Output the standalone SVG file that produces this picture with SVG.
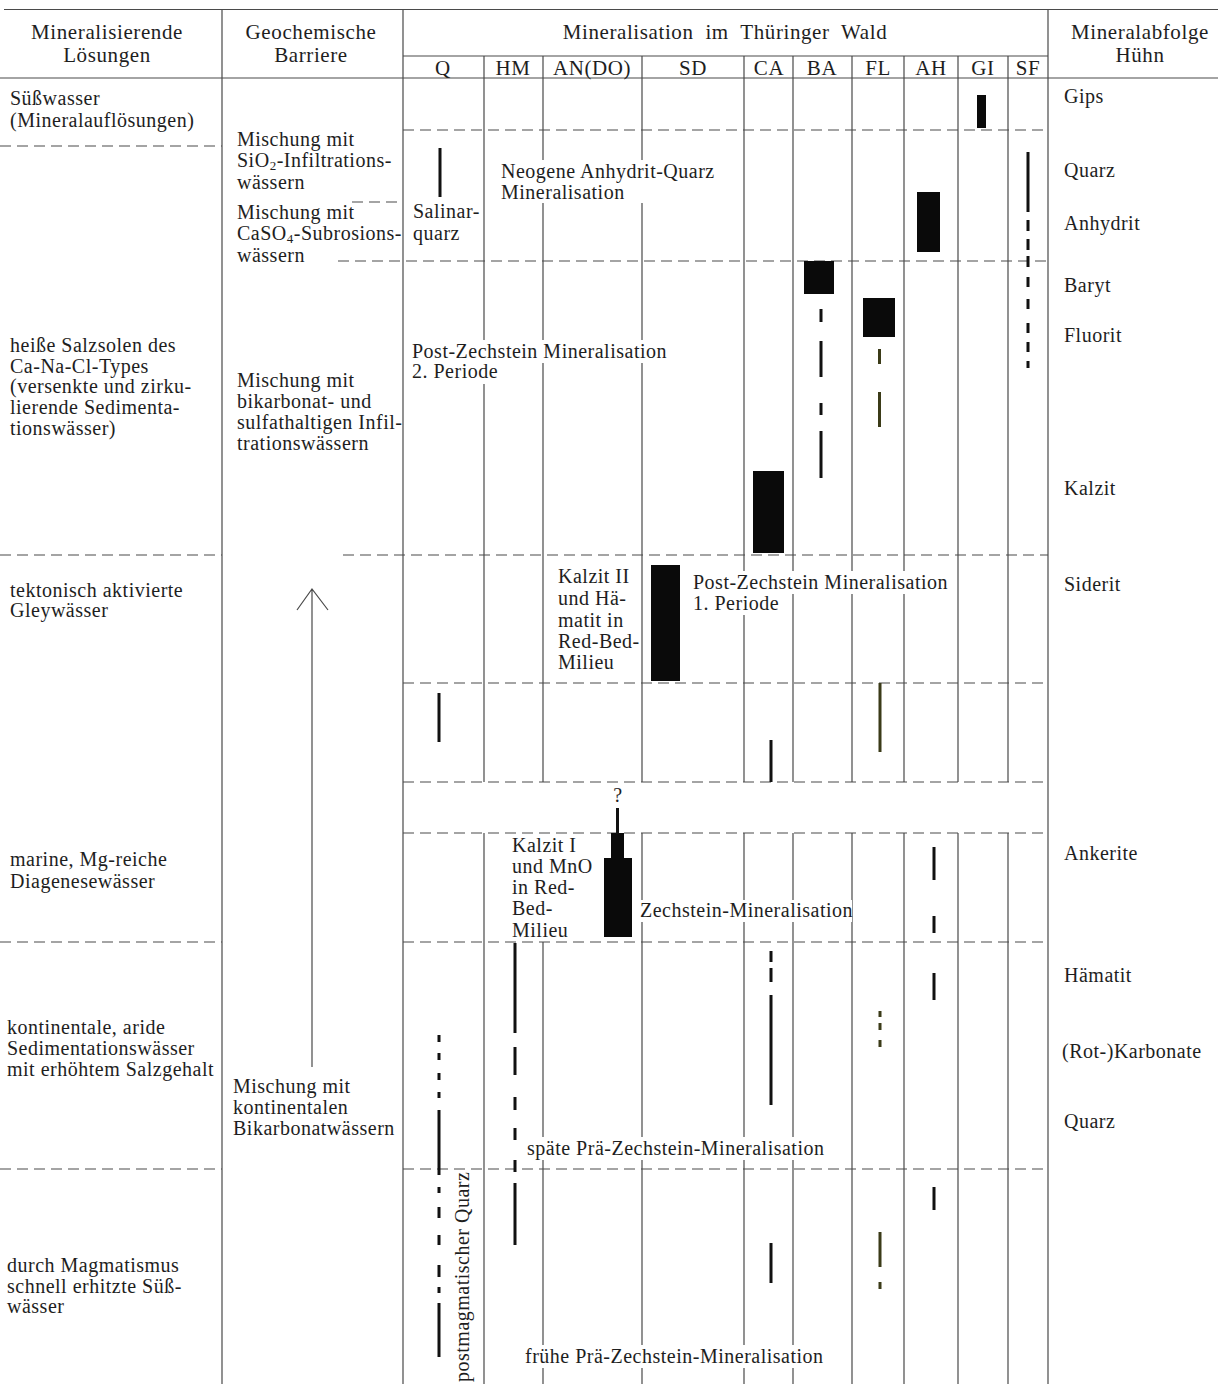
<svg xmlns="http://www.w3.org/2000/svg" width="1218" height="1384" viewBox="0 0 1218 1384">
<style>
text{font-family:"Liberation Serif","DejaVu Serif",serif;font-size:20px;letter-spacing:0.5px;fill:#1e1e1e}
.hd{font-size:21px;letter-spacing:0.6px}
.c{text-anchor:middle}
.g{stroke:#4a4a4a;stroke-width:1.2;fill:none}
.d{stroke:#4a4a4a;stroke-width:1.2;fill:none;stroke-dasharray:11 6}
.b{stroke:#111;stroke-width:3;fill:none}
.o{stroke:#3b3b18;stroke-width:3;fill:none}
.bar{fill:#0a0a0a}
.k{fill:#fff}
</style>
<rect width="1218" height="1384" fill="#fff"/>
<g id="grid">
<path class="g" d="M4 9.5H1218M0 78H1218M403 56H1048M222 9.5V1384M403 9.5V1384M1048 9.5V1384"/>
<path class="g" d="M484 56V782M543 56V782M642 56V782M744 56V782M793 56V782M852 56V782M904 56V782M958 56V782M1008 56V782"/>
<path class="g" d="M484 833V1384M543 942V1384M642 833V1384M744 833V1384M793 833V1384M852 833V1384M904 833V1384M958 833V1384M1008 833V1384"/>
<path class="d" d="M403 130H1048M0 146H222M352 202H403M338 261H1048M0 555H222M343 555H1048M403 683H1048M403 782H1048M403 833H1048M0 942H222M403 942H1048M0 1169H222M403 1169H1048"/>
</g>
<g id="label-knockouts">
<rect class="k" x="498" y="160" width="222" height="43"/>
<rect class="k" x="410" y="340" width="258" height="23"/>
<rect class="k" x="410" y="362" width="90" height="22"/>
<rect class="k" x="691" y="571" width="260" height="23"/>
<rect class="k" x="691" y="593" width="90" height="22"/>
<rect class="k" x="638" y="900" width="214" height="22"/>
<rect class="k" x="525" y="1137" width="306" height="23"/>
<rect class="k" x="523" y="1345" width="306" height="23"/>
</g>
<g id="header">
<text class="c hd" x="107" y="39">Mineralisierende</text>
<text class="c hd" x="107" y="62">Lösungen</text>
<text class="c hd" x="311" y="39">Geochemische</text>
<text class="c hd" x="311" y="62">Barriere</text>
<text class="c hd" x="725" y="39" word-spacing="6">Mineralisation im Thüringer Wald</text>
<text class="c hd" x="1140" y="39">Mineralabfolge</text>
<text class="c hd" x="1140" y="62">Hühn</text>
<text class="c hd" x="443" y="75">Q</text>
<text class="c hd" x="513" y="75">HM</text>
<text class="c hd" x="592" y="75">AN(DO)</text>
<text class="c hd" x="693" y="75">SD</text>
<text class="c hd" x="769" y="75">CA</text>
<text class="c hd" x="822" y="75">BA</text>
<text class="c hd" x="878" y="75">FL</text>
<text class="c hd" x="931" y="75">AH</text>
<text class="c hd" x="983" y="75">GI</text>
<text class="c hd" x="1028" y="75">SF</text>
</g>
<g id="loesungen">
<text x="10" y="105">Süßwasser</text>
<text x="10" y="127">(Mineralauflösungen)</text>
<text x="10" y="352">heiße Salzsolen des</text>
<text x="10" y="373">Ca-Na-Cl-Types</text>
<text x="10" y="393">(versenkte und zirku-</text>
<text x="10" y="414">lierende Sedimenta-</text>
<text x="10" y="435">tionswässer)</text>
<text x="10" y="597">tektonisch aktivierte</text>
<text x="10" y="617">Gleywässer</text>
<text x="10" y="866">marine, Mg-reiche</text>
<text x="10" y="888">Diagenesewässer</text>
<text x="7" y="1034">kontinentale, aride</text>
<text x="7" y="1055">Sedimentationswässer</text>
<text x="7" y="1076">mit erhöhtem Salzgehalt</text>
<text x="7" y="1272">durch Magmatismus</text>
<text x="7" y="1293">schnell erhitzte Süß-</text>
<text x="7" y="1313">wässer</text>
</g>
<g id="barriere">
<text x="237" y="146">Mischung mit</text>
<text x="237" y="167">SiO<tspan dy="3" font-size="13">2</tspan><tspan dy="-3">-Infiltrations-</tspan></text>
<text x="237" y="189">wässern</text>
<text x="237" y="219">Mischung mit</text>
<text x="237" y="240">CaSO<tspan dy="3" font-size="13">4</tspan><tspan dy="-3">-Subrosions-</tspan></text>
<text x="237" y="262">wässern</text>
<text x="237" y="387">Mischung mit</text>
<text x="237" y="408">bikarbonat- und</text>
<text x="237" y="429">sulfathaltigen Infil-</text>
<text x="237" y="450">trationswässern</text>
<text x="233" y="1093">Mischung mit</text>
<text x="233" y="1114">kontinentalen</text>
<text x="233" y="1135">Bikarbonatwässern</text>
</g>
<g id="connectors">
<path class="g" d="M312 589V1067M297 610L312 589L328 610"/>
</g>
<g id="mineralisation-labels">
<text x="413" y="218">Salinar-</text>
<text x="413" y="240">quarz</text>
<text x="501" y="178">Neogene Anhydrit-Quarz</text>
<text x="501" y="199">Mineralisation</text>
<text x="412" y="358">Post-Zechstein Mineralisation</text>
<text x="412" y="378">2. Periode</text>
<text x="558" y="583">Kalzit II</text>
<text x="558" y="605">und Hä-</text>
<text x="558" y="627">matit in</text>
<text x="558" y="648">Red-Bed-</text>
<text x="558" y="669">Milieu</text>
<text x="693" y="589">Post-Zechstein Mineralisation</text>
<text x="693" y="610">1. Periode</text>
<text class="c" x="618" y="802">?</text>
<text x="512" y="852">Kalzit I</text>
<text x="512" y="873">und MnO</text>
<text x="512" y="894">in Red-</text>
<text x="512" y="915">Bed-</text>
<text x="512" y="937">Milieu</text>
<text x="640" y="917">Zechstein-Mineralisation</text>
<text x="527" y="1155">späte Prä-Zechstein-Mineralisation</text>
<text x="525" y="1363">frühe Prä-Zechstein-Mineralisation</text>
<text transform="translate(469,1382) rotate(-90)">postmagmatischer Quarz</text>
</g>
<g id="huehn">
<text x="1064" y="103">Gips</text>
<text x="1064" y="177">Quarz</text>
<text x="1064" y="230">Anhydrit</text>
<text x="1064" y="292">Baryt</text>
<text x="1064" y="342">Fluorit</text>
<text x="1064" y="495">Kalzit</text>
<text x="1064" y="591">Siderit</text>
<text x="1064" y="860">Ankerite</text>
<text x="1064" y="982">Hämatit</text>
<text x="1062" y="1058">(Rot-)Karbonate</text>
<text x="1064" y="1128">Quarz</text>
</g>
<g id="ranges">
<rect class="bar" x="977" y="95" width="9" height="33"/>
<rect class="bar" x="917" y="192" width="23" height="60"/>
<rect class="bar" x="804" y="261" width="30" height="33"/>
<rect class="bar" x="863" y="298" width="32" height="39"/>
<rect class="bar" x="753" y="471" width="31" height="82"/>
<rect class="bar" x="651" y="565" width="29" height="116"/>
<rect class="bar" x="611" y="833" width="13" height="26"/>
<rect class="bar" x="604" y="858" width="28" height="79"/>
<path class="b" stroke-width="2" d="M617.5 808V834"/>
<path class="b" d="M440 148V197M1028 152V212M1028 220V231M1028 239V250M1028 256V267M1028 277V287M1028 299V309M1028 323V333M1028 342V352M1028 361V368"/>
<path class="b" d="M821 309V322M821 341V377M821 403V415M821 431V478"/>
<path class="o" d="M879.5 349V364M879.5 392V427M880 683V752M880 1011V1017M880 1023V1030M880 1040V1047M880 1232V1267M880 1282V1289"/>
<path class="b" d="M439 693V742M771 740V782"/>
<path class="b" d="M934 847V880M934 916V933M934 973V1000M934 1187V1210"/>
<path class="b" d="M515 943V1033M515 1047V1075M515 1097V1110M515 1128V1140M515 1160V1172M515 1183V1245"/>
<path class="b" d="M439 1035V1042M439 1053V1060M439 1073V1080M439 1092V1098M439 1110V1175M439 1187V1193M439 1207V1218M439 1235V1245M439 1265V1277M439 1287V1293M439 1303V1357"/>
<path class="b" d="M771 951V962M771 968V982M771 995V1105M771 1243V1283"/>
</g>
</svg>
